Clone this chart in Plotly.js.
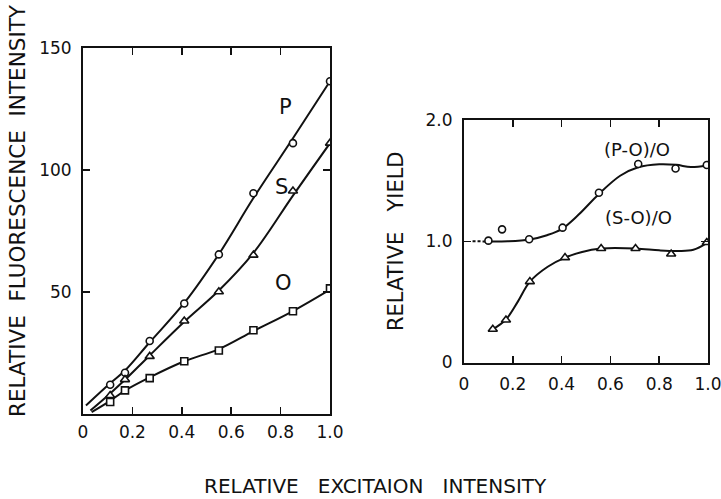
<!DOCTYPE html>
<html>
<head>
<meta charset="utf-8">
<script src="https://cdn.plot.ly/plotly-3.0.1.min.js"></script>
<style>html,body{margin:0;padding:0;background:#fff;}</style>
</head>
<body>
<div id="chart" style="width:721px;height:499px;"></div>
<script>
// ---- Left panel: fluorescence intensity vs excitation intensity ----
const excitation = [0.11, 0.17, 0.27, 0.41, 0.55, 0.69, 0.85, 1.0];
const seriesP = [12.0, 16.9, 29.9, 45.3, 65.4, 90.5, 111.0, 136.4];
const seriesS = [7.6, 14.1, 23.6, 38.1, 50.1, 65.1, 91.4, 111.0];
const seriesO = [4.9, 9.7, 14.7, 21.6, 26.0, 34.3, 42.1, 51.5];

// hand-drawn fitted curves
const fitPx = [0.012, 0.11, 0.17, 0.27, 0.41, 0.55, 0.69, 0.85, 1.0];
const fitPy = [3.5, 12.6, 17.8, 29.4, 45.5, 65.5, 88.5, 113.0, 136.4];
const fitSx = [0.03, 0.11, 0.17, 0.27, 0.41, 0.55, 0.69, 0.85, 1.0];
const fitSy = [1.4, 8.4, 14.0, 24.0, 37.8, 50.6, 66.0, 89.5, 111.0];
const fitOx = [0.035, 0.11, 0.17, 0.27, 0.41, 0.55, 0.69, 0.85, 1.0];
const fitOy = [0.8, 5.4, 9.6, 15.0, 21.6, 26.6, 34.0, 42.2, 51.0];

// ---- Right panel: relative yield ----
const yieldPOx = [0.10, 0.156, 0.267, 0.404, 0.553, 0.714, 0.867, 0.995];
const yieldPO = [1.005, 1.098, 1.016, 1.112, 1.40, 1.637, 1.60, 1.629];
const yieldSOx = [0.118, 0.172, 0.27, 0.414, 0.562, 0.703, 0.849, 0.995];
const yieldSO = [0.274, 0.35, 0.667, 0.865, 0.94, 0.94, 0.895, 0.99];

const guidePOx = [0.035, 0.10];
const guidePOy = [1.0, 0.998];
const fitPOx = [0.10, 0.18, 0.27, 0.34, 0.40, 0.47, 0.553, 0.64, 0.714, 0.80, 0.87, 0.93, 0.995];
const fitPOy = [0.998, 1.0, 1.015, 1.05, 1.10, 1.22, 1.39, 1.54, 1.61, 1.635, 1.63, 1.612, 1.625];
const fitSOx = [0.118, 0.172, 0.22, 0.27, 0.343, 0.414, 0.48, 0.562, 0.703, 0.80, 0.88, 0.94, 0.995];
const fitSOy = [0.274, 0.355, 0.50, 0.667, 0.79, 0.865, 0.91, 0.94, 0.94, 0.925, 0.92, 0.93, 0.985];

const xTickVals = [0, 0.2, 0.4, 0.6, 0.8, 1.0];
const xTickText = ['0', '0.2', '0.4', '0.6', '0.8', '1.0'];
const yTickValsL = [50, 100, 150];
const yTickTextL = ['50', '100', '150'];
const yTickValsR = [0, 1, 2];
const yTickTextR = ['0', '1.0', '2.0'];

const INK = '#111';
const FONT = 'DejaVu Sans, sans-serif';

function curve(x, y, xa, ya, dash) {
  return {x: x, y: y, xaxis: xa, yaxis: ya, mode: 'lines', type: 'scatter',
    line: {color: INK, width: 2, shape: 'spline', smoothing: 1, dash: dash || 'solid'},
    hoverinfo: 'skip', showlegend: false};
}
function pts(x, y, xa, ya, sym, size, name) {
  return {x: x, y: y, xaxis: xa, yaxis: ya, mode: 'markers', type: 'scatter', name: name,
    marker: {symbol: sym, size: size, color: '#fff', line: {color: INK, width: 1.6}},
    showlegend: false};
}

const data = [
  curve(fitPx, fitPy, 'x', 'y'),
  curve(fitSx, fitSy, 'x', 'y'),
  curve(fitOx, fitOy, 'x', 'y'),
  pts(excitation, seriesP, 'x', 'y', 'circle', 7, 'P'),
  pts(excitation, seriesS, 'x', 'y', 'triangle-up', 8, 'S'),
  pts(excitation, seriesO, 'x', 'y', 'square', 7, 'O'),
  curve(guidePOx, guidePOy, 'x2', 'y2', '3px,2px'),
  curve(fitPOx, fitPOy, 'x2', 'y2'),
  curve(fitSOx, fitSOy, 'x2', 'y2'),
  pts(yieldPOx, yieldPO, 'x2', 'y2', 'circle', 7, '(P-O)/O'),
  pts(yieldSOx, yieldSO, 'x2', 'y2', 'triangle-up', 8, '(S-O)/O')
];

const axisCommon = {
  showline: true, linecolor: INK, linewidth: 2, mirror: 'ticks',
  ticks: 'inside', ticklen: 7, tickwidth: 1.5, tickcolor: INK,
  showgrid: false, zeroline: false, tickmode: 'array',
  ticklabeloverflow: 'allow',
  tickfont: {family: FONT, size: 17, color: INK}
};

const layout = {
  width: 721, height: 499,
  margin: {l: 0, r: 0, t: 0, b: 0},
  paper_bgcolor: '#fff', plot_bgcolor: '#fff',
  showlegend: false,
  font: {family: FONT, color: INK},
  xaxis: Object.assign({}, axisCommon, {domain: [83/721, 330/721], range: [0, 1],
    tickvals: xTickVals, ticktext: xTickText, anchor: 'y', ticklabelstandoff: 2}),
  yaxis: Object.assign({}, axisCommon, {domain: [(499-414)/499, (499-48)/499], range: [0, 150],
    tickvals: yTickValsL, ticktext: yTickTextL, anchor: 'x', ticklabelstandoff: 6}),
  xaxis2: Object.assign({}, axisCommon, {domain: [464/721, 708/721], range: [0, 1],
    tickvals: xTickVals, ticktext: xTickText, anchor: 'y2', ticklabelstandoff: 5}),
  yaxis2: Object.assign({}, axisCommon, {domain: [(499-362.5)/499, (499-120)/499], range: [0, 2],
    tickvals: yTickValsR, ticktext: yTickTextR, anchor: 'x2', ticklabelstandoff: 6,
    title: {text: 'RELATIVE   YIELD', font: {family: FONT, size: 21, color: INK}, standoff: 16}}),
  annotations: [
    {text: 'RELATIVE  FLUORESCENCE  INTENSITY', xref: 'paper', yref: 'paper',
     x: 17/721, y: (499-211)/499, textangle: -90, showarrow: false,
     font: {family: FONT, size: 21.5, color: INK}, xanchor: 'center', yanchor: 'middle'},
    {text: 'RELATIVE   EXCITAION   INTENSITY', xref: 'paper', yref: 'paper',
     x: 375/721, y: (499-486)/499, showarrow: false,
     font: {family: FONT, size: 20, color: INK}, xanchor: 'center', yanchor: 'middle'},
    {text: 'P', xref: 'x', yref: 'y', x: 0.82, y: 126, showarrow: false,
     font: {family: FONT, size: 21, color: INK}},
    {text: 'S', xref: 'x', yref: 'y', x: 0.805, y: 93, showarrow: false,
     font: {family: FONT, size: 21, color: INK}},
    {text: 'O', xref: 'x', yref: 'y', x: 0.81, y: 53.5, showarrow: false,
     font: {family: FONT, size: 21, color: INK}},
    {text: '(P-O)/O', xref: 'x2', yref: 'y2', x: 0.71, y: 1.76, showarrow: false,
     font: {family: FONT, size: 18, color: INK}},
    {text: '(S-O)/O', xref: 'x2', yref: 'y2', x: 0.716, y: 1.20, showarrow: false,
     font: {family: FONT, size: 18, color: INK}}
  ]
};

Plotly.newPlot('chart', data, layout, {staticPlot: true, displayModeBar: false});
</script>
</body>
</html>
